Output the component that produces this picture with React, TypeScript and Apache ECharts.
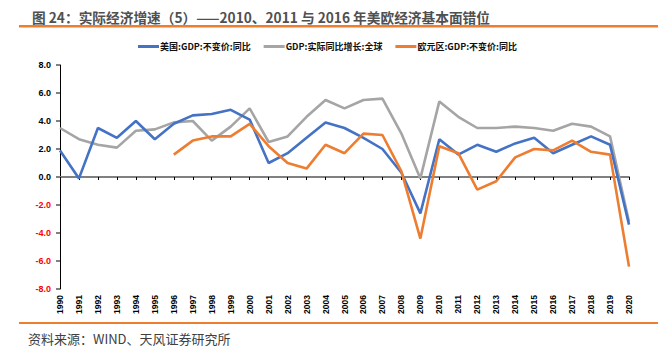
import React, { useEffect, useRef } from "react";
import * as echarts from "echarts";

const titleText = "图 24：实际经济增速（5）——2010、2011 与 2016 年美欧经济基本面错位";
const sourceText = "资料来源：WIND、天风证券研究所";

const years = [
  "1990", "1991", "1992", "1993", "1994", "1995", "1996", "1997", "1998", "1999",
  "2000", "2001", "2002", "2003", "2004", "2005", "2006", "2007", "2008", "2009",
  "2010", "2011", "2012", "2013", "2014", "2015", "2016", "2017", "2018", "2019",
  "2020",
];

const seriesNames = ["美国:GDP:不变价:同比", "GDP:实际同比增长:全球", "欧元区:GDP:不变价:同比"];

const usGdp = [
  1.9, -0.1, 3.5, 2.8, 4.0, 2.7, 3.8, 4.4, 4.5, 4.8,
  4.1, 1.0, 1.7, 2.8, 3.9, 3.5, 2.8, 2.0, 0.3, -2.6,
  2.7, 1.6, 2.3, 1.8, 2.4, 2.8, 1.7, 2.3, 2.9, 2.3,
  -3.4,
];

const globalGdp = [
  3.5, 2.7, 2.3, 2.1, 3.3, 3.4, 3.9, 4.0, 2.6, 3.6,
  4.9, 2.5, 2.9, 4.3, 5.5, 4.9, 5.5, 5.6, 3.1, -0.1,
  5.4, 4.3, 3.5, 3.5, 3.6, 3.5, 3.3, 3.8, 3.6, 2.9,
  -3.2,
];

const euroGdp = [
  null, null, null, null, null, null, 1.6, 2.6, 2.9, 2.9,
  3.8, 2.2, 1.0, 0.6, 2.3, 1.7, 3.1, 3.0, 0.4, -4.4,
  2.2, 1.7, -0.9, -0.3, 1.4, 2.0, 1.9, 2.6, 1.8, 1.6,
  -6.4,
];

const colors = ["#4472C4", "#A5A5A5", "#ED7D31"];
const yMin = -8;
const yMax = 8;
const yInterval = 2;

export default function App() {
  const ref = useRef<HTMLDivElement>(null);

  useEffect(() => {
    document.body.style.margin = "0";
    if (!ref.current) return;
    const chart = echarts.init(ref.current, null, { renderer: "svg" });
    const cjk = "'Noto Sans CJK SC', 'Noto Sans', sans-serif";
    const axisFont = "'Liberation Sans', Arial, 'Noto Sans CJK SC', sans-serif";
    chart.setOption({
      animation: false,
      backgroundColor: "#ffffff",
      title: {
        text: titleText,
        left: 27,
        top: 5,
        textStyle: {
          fontFamily: cjk,
          fontSize: 13.7,
          fontWeight: "bold",
          color: "#505050",
        },
      },
      legend: {
        left: 133,
        top: 37,
        icon: "rect",
        itemWidth: 21,
        itemHeight: 3,
        itemGap: 13,
        data: seriesNames,
        textStyle: {
          fontFamily: cjk,
          fontSize: 9,
          fontWeight: "bold",
          color: "#111",
          padding: [0, 0, 0, -4],
        },
      },
      grid: { left: 60, right: 43, top: 65, bottom: 74, containLabel: false },
      xAxis: [
        {
          type: "category",
          data: years,
          boundaryGap: false,
          position: "bottom",
          axisLine: { show: false, onZero: false },
          axisTick: { show: false },
          axisLabel: {
            rotate: 90,
            margin: 6,
            fontFamily: axisFont,
            fontSize: 8.5,
            fontWeight: "bold",
            color: "#000",
            interval: 0,
          },
          splitLine: { show: false },
        },
        {
          type: "category",
          data: years,
          boundaryGap: false,
          position: "top",
          axisLine: { show: true, onZero: true, lineStyle: { color: "#808080", width: 2 } },
          axisTick: { show: true, inside: true, length: 3, interval: 0, lineStyle: { color: "#000", width: 1 } },
          axisLabel: { show: false },
          splitLine: { show: false },
        },
      ],
      yAxis: {
        type: "value",
        min: yMin,
        max: yMax,
        interval: yInterval,
        axisLine: { show: true, lineStyle: { color: "#000", width: 1 } },
        axisTick: { show: true, length: 4, lineStyle: { color: "#808080", width: 2 } },
        axisLabel: {
          margin: 9,
          fontFamily: axisFont,
          fontSize: 9,
          fontWeight: "bold",
          formatter: (v: number) => v.toFixed(1),
          color: (v: any) => (Number(v) < 0 ? "#FF0000" : "#000000"),
        },
        splitLine: { show: false },
      },
      series: [
        { name: seriesNames[0], data: usGdp, color: colors[0] },
        { name: seriesNames[1], data: globalGdp, color: colors[1] },
        { name: seriesNames[2], data: euroGdp, color: colors[2] },
      ].map((s, i) => ({
        type: "line",
        name: s.name,
        data: s.data,
        xAxisIndex: 0,
        symbol: "none",
        showSymbol: false,
        connectNulls: false,
        z: i === 1 ? 1 : 2,
        itemStyle: { color: s.color },
        lineStyle: { color: s.color, width: 2.6 },
      })),
      graphic: [
        {
          type: "rect",
          shape: { x: 19, y: 25, width: 639, height: 2.5 },
          style: { fill: "#EE7D2E" },
          silent: true,
        },
        {
          type: "rect",
          shape: { x: 19, y: 322, width: 639, height: 2 },
          style: { fill: "#EE7D2E" },
          silent: true,
        },
        {
          type: "text",
          x: 28,
          y: 338,
          style: {
            text: sourceText,
            fontFamily: cjk,
            fontSize: 13,
            fill: "#404040",
            textVerticalAlign: "middle",
            verticalAlign: "middle",
          },
          silent: true,
        },
      ],
    });
    return () => chart.dispose();
  }, []);

  return <div ref={ref} style={{ width: 672, height: 363 }} />;
}
